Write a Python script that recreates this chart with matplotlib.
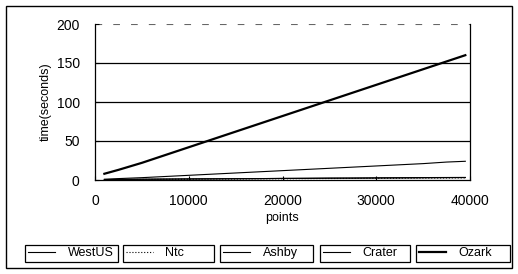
import matplotlib
matplotlib.use("Agg")
import matplotlib.pyplot as plt
from matplotlib.patches import Rectangle
from matplotlib.lines import Line2D

plt.rcParams['font.family'] = ['Liberation Sans', 'DejaVu Sans']

points = [1000, 2500, 5000, 7500, 10000, 12500, 15000, 17500, 20000,
          22500, 25000, 27500, 30000, 32500, 35000, 37500, 39500]
westus = [0.5, 0.8, 1.0, 1.2, 1.4, 1.5, 1.7, 1.8, 2.0, 2.1, 2.3, 2.4, 2.6, 2.7, 2.9, 3.0, 3.1]
ntc = [0.3, 0.5, 0.7, 0.9, 1.0, 1.2, 1.3, 1.5, 1.6, 1.8, 1.9, 2.0, 2.2, 2.3, 2.4, 2.6, 2.7]
ashby = [0.4, 0.6, 0.9, 1.1, 1.3, 1.5, 1.6, 1.8, 2.0, 2.2, 2.4, 2.5, 2.7, 2.9, 3.1, 3.2, 3.3]
crater = [1.0, 1.8, 3.0, 4.5, 6.0, 7.5, 9.0, 10.5, 12.0, 13.5, 15.0, 16.5, 18.0, 19.5, 21.0, 23.0, 24.0]
ozark = [8.0, 13.0, 22.0, 32.0, 42.0, 52.0, 62.0, 72.0, 82.0, 92.0, 102.0, 112.0, 122.0, 132.0, 142.0, 152.0, 160.0]

names = ['WestUS', 'Ntc', 'Ashby', 'Crater', 'Ozark']
series = [westus, ntc, ashby, crater, ozark]
styles = [dict(lw=0.8, ls='-'), dict(lw=0.8, ls=':'), dict(lw=0.8, ls='-'),
          dict(lw=0.8, ls='-'), dict(lw=1.6, ls='-')]

W, H = 518, 274
fig = plt.figure(figsize=(W / 100, H / 100), dpi=100)
ax = fig.add_axes([95 / W, 1 - 180 / H, (470 - 95) / W, (180 - 24) / H])

for y in [50, 100, 150]:
    ax.axhline(y, color='black', lw=0.9, zorder=1)
ax.axhline(200, color='#666666', lw=0.8, ls=(0, (6, 10)), zorder=1)

handles = []
for n, s, st in zip(names, series, styles):
    h, = ax.plot(points, s, color='black', zorder=3, **st)
    handles.append(h)

ax.set_xlim(0, 40000)
ax.set_ylim(0, 200)
ax.set_xticks([0, 10000, 20000, 30000, 40000])
ax.set_yticks([0, 50, 100, 150, 200])
ax.tick_params(labelsize=10, length=3, direction='in', width=0.8)
ax.tick_params(axis='x', pad=10)
ax.tick_params(axis='y', pad=11)
ax.spines['top'].set_visible(False)
for sp in ['left', 'right', 'bottom']:
    ax.spines[sp].set_linewidth(0.9)
ax.set_xlabel('points', fontsize=9, labelpad=3)
ax.set_ylabel('time(seconds)', fontsize=9, labelpad=3)

# outer frame
fig.patches.append(Rectangle((6 / W, 6 / H), (512 - 6) / W, (268 - 6) / H,
                             transform=fig.transFigure, fill=False,
                             edgecolor='black', lw=1.0))

boxes = [(25, 118), (123, 214), (220, 313), (320, 410), (416, 510)]
for (x0, x1), h, n in zip(boxes, handles, names):
    lh = Line2D([], [], color='black', lw=h.get_linewidth(), ls=h.get_linestyle())
    leg = fig.legend(handles=[lh], labels=[n], loc='center',
                     bbox_to_anchor=(x0 / W, 1 - 263 / H, (x1 - x0) / W, 20 / H),
                     mode='expand', fancybox=False, edgecolor='black',
                     framealpha=1, fontsize=9, handlelength=2.2,
                     borderpad=0.2, handletextpad=1.0, borderaxespad=0)
    leg.get_frame().set_linewidth(0.9)

fig.savefig('out.png', dpi=100)
